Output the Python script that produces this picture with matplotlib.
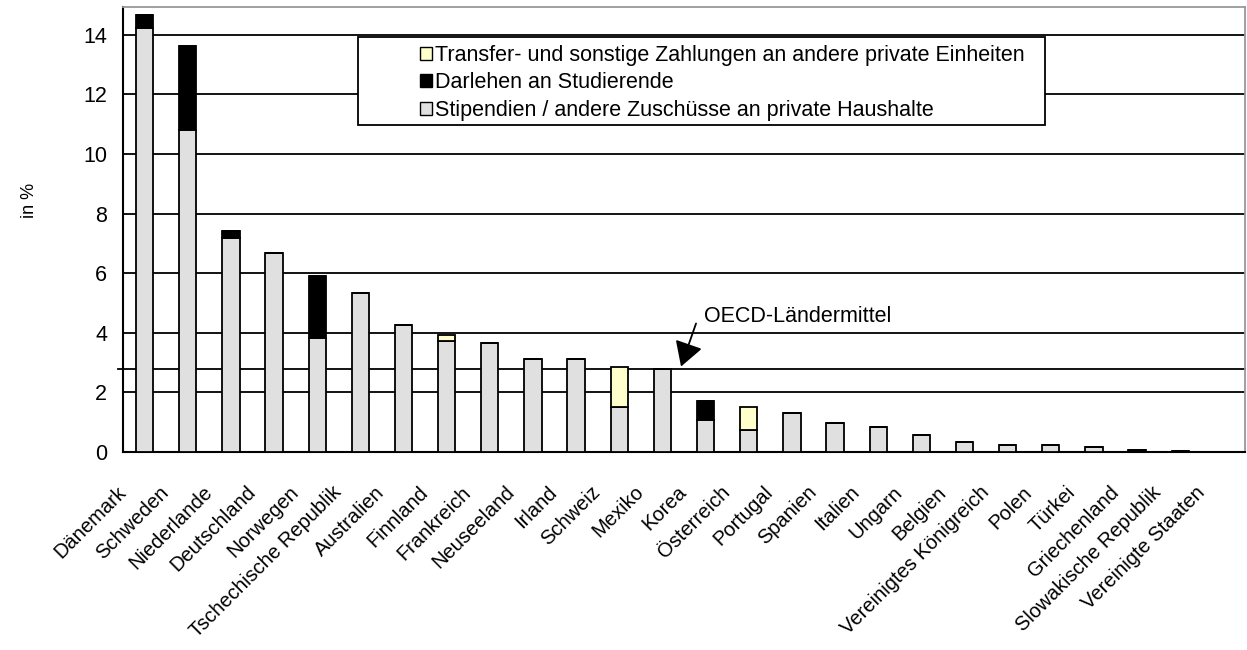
import numpy as np
import matplotlib
matplotlib.use('Agg')
import matplotlib.pyplot as plt
import matplotlib.transforms as mtransforms
from matplotlib.patches import Rectangle, Patch

matplotlib.rcParams.update({'font.family': ['Liberation Sans', 'DejaVu Sans'], 'font.size': 15.5})

countries = ['Dänemark', 'Schweden', 'Niederlande', 'Deutschland', 'Norwegen',
             'Tschechische Republik', 'Australien', 'Finnland', 'Frankreich',
             'Neuseeland', 'Irland', 'Schweiz', 'Mexiko', 'Korea', 'Österreich',
             'Portugal', 'Spanien', 'Italien', 'Ungarn', 'Belgien',
             'Vereinigtes Königreich', 'Polen', 'Türkei', 'Griechenland',
             'Slowakische Republik', 'Vereinigte Staaten']
stipendien = [14.22, 10.82, 7.18, 6.68, 3.83, 5.33, 4.27, 3.71, 3.65, 3.11, 3.11, 1.52,
              2.78, 1.07, 0.74, 1.30, 0.96, 0.83, 0.57, 0.35, 0.23, 0.23, 0.17, 0.0, 0.0, 0.0]
darlehen = [0.45, 2.80, 0.25, 0.0, 2.06, 0.0, 0.0, 0.0, 0.0, 0.0, 0.0, 0.0,
            0.0, 0.64, 0.0, 0.0, 0.0, 0.0, 0.0, 0.0, 0.0, 0.0, 0.0, 0.07, 0.03, 0.0]
transfer = [0.0, 0.0, 0.0, 0.0, 0.0, 0.0, 0.0, 0.22, 0.0, 0.0, 0.0, 1.32,
            0.0, 0.0, 0.77, 0.0, 0.0, 0.0, 0.0, 0.0, 0.0, 0.0, 0.0, 0.0, 0.0, 0.0]
oecd_mittel = 2.78
yticks = [0, 2, 4, 6, 8, 10, 12, 14]

labels = ['Transfer- und sonstige Zahlungen an andere private Einheiten',
          'Darlehen an Studierende',
          'Stipendien / andere Zuschüsse an private Haushalte']
c_grey = '#E0E0E0'
c_black = '#000000'
c_yellow = '#FFFFCC'

fig = plt.figure(figsize=(12.47, 6.5), dpi=100)
ax = fig.add_axes([123/1247, 1-452/650, 1122/1247, 445/650])

x = np.arange(len(countries))
s = np.array(stipendien)
d = np.array(darlehen)
t = np.array(transfer)
w = 0.4
ax.bar(x, s, w, color=c_grey, edgecolor='black', linewidth=1.3, zorder=3)
ax.bar(x, d, w, bottom=s, color=c_black, edgecolor='black', linewidth=1.3, zorder=3)
ax.bar(x, t, w, bottom=s+d, color=c_yellow, edgecolor='black', linewidth=1.3, zorder=3)

ax.set_xlim(-0.5, len(countries)-0.5)
ax.set_ylim(0, 14.93)
ax.set_yticks(yticks)
for yy in yticks[1:]:
    ax.axhline(yy, color='black', lw=1.3, zorder=1)

# OECD average line, sticking out a bit to the left
ax.plot([-0.62, len(countries)-0.5], [oecd_mittel, oecd_mittel], color='black', lw=1.3,
        clip_on=False, zorder=2)
ax.annotate('', xy=(12.41, oecd_mittel), xytext=(12.80, 4.40),
            arrowprops=dict(arrowstyle='-|>,head_length=0.6,head_width=0.35',
                            mutation_scale=25, color='black', lw=1.3), zorder=4)
ax.text(12.96, 4.54, 'OECD-Ländermittel', ha='left', va='center', fontsize=15.5, zorder=4)

for sp in ['left', 'bottom']:
    ax.spines[sp].set_color('black')
    ax.spines[sp].set_linewidth(1.5)
for sp in ['top', 'right']:
    ax.spines[sp].set_color('#999999')
    ax.spines[sp].set_linewidth(1.3)

ax.tick_params(axis='y', length=0, pad=11.5, labelsize=15.5)
ax.tick_params(axis='x', length=0, pad=22, labelsize=14.5)
ax.set_xticks(x)
ax.set_xticklabels(countries, rotation=45, ha='right')
off = mtransforms.ScaledTranslation(-0.15, 0, fig.dpi_scale_trans)
for lab in ax.get_xticklabels():
    lab.set_transform(lab.get_transform() + off)

fig.text(30/1247, 1-200/650, 'in %', rotation=90, ha='center', va='center', fontsize=13)

# legend box
box = Rectangle((358/1247, 1-125/650), (1045-358)/1247, 88/650, transform=fig.transFigure,
                facecolor='white', edgecolor='black', lw=1.3, zorder=5)
fig.patches.append(box)
handles = [Patch(facecolor=c_yellow, edgecolor='black', lw=1),
           Patch(facecolor=c_black, edgecolor='black', lw=1),
           Patch(facecolor=c_grey, edgecolor='black', lw=1)]
leg = fig.legend(handles, labels, loc='upper left', bbox_to_anchor=(409/1247, 1-34/650),
                 frameon=False, handlelength=0.56, handleheight=0.56, handletextpad=0.15,
                 labelspacing=0.3, fontsize=15.5, borderpad=0.0)
leg.set_zorder(6)

fig.savefig('out.png', dpi=100, facecolor='white')
